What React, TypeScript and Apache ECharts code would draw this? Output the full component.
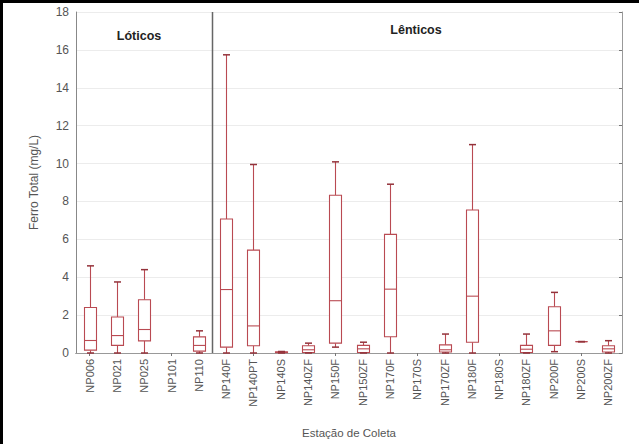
import React, { useEffect, useRef } from "react";
import * as echarts from "echarts";

const categories = [
  "NP006", "NP021", "NP025", "NP101", "NP110",
  "NP140F", "NP140PT", "NP140S", "NP140ZF", "NP150F", "NP150ZF",
  "NP170F", "NP170S", "NP170ZF", "NP180F", "NP180S", "NP180ZF",
  "NP200F", "NP200S", "NP200ZF",
];
// [min, q1, median, q3, max]
const mins = [0, 0, 0, 0, 0, 0, 0, 0, 0, 0.31, 0, 0, 0, 0, 0, 0, 0, 0.07, 0.6, 0];
const q1s = [0.15, 0.4, 0.64, 0, 0.1, 0.31, 0.38, 0.02, 0.03, 0.52, 0.03, 0.86, 0, 0.05, 0.57, 0, 0.03, 0.4, 0.6, 0.05];
const medians = [0.66, 0.92, 1.24, 0, 0.4, 3.35, 1.43, 0.04, 0.17, 2.76, 0.22, 3.37, 0, 0.17, 3.0, 0, 0.2, 1.17, 0.6, 0.22];
const q3s = [2.4, 1.9, 2.81, 0, 0.85, 7.07, 5.43, 0.06, 0.38, 8.33, 0.4, 6.26, 0, 0.43, 7.55, 0, 0.4, 2.44, 0.6, 0.38];
const maxs = [4.6, 3.75, 4.4, 0, 1.17, 15.74, 9.95, 0.08, 0.52, 10.09, 0.57, 8.91, 0, 1.0, 11.0, 0, 1.0, 3.2, 0.6, 0.65];
const lastLotico = 4;

const BOX = "#b94a52";
const CAP = "#93323a";

export default function App() {
  const ref = useRef<HTMLDivElement>(null);
  useEffect(() => {
    if (!ref.current) return;
    const chart = echarts.init(ref.current, undefined, { renderer: "svg" });
    const data = categories.map((_, i) => [i, mins[i], q1s[i], medians[i], q3s[i], maxs[i]]);
    const font = "'Liberation Sans', Arial, sans-serif";
    chart.setOption({
      animation: false,
      backgroundColor: "#fff",
      grid: { left: 76, right: 17, top: 12, bottom: 84, show: false },
      xAxis: [
        {
          type: "category",
          data: categories,
          position: "bottom",
          axisLine: { lineStyle: { color: "#666", width: 1 } },
          axisTick: { show: false },
          axisLabel: { rotate: 90, margin: 6, color: "#555", fontSize: 11, fontFamily: font },
          name: "Estação de Coleta",
          nameLocation: "middle",
          nameGap: 74,
          nameTextStyle: { color: "#555", fontSize: 11.5, fontFamily: font },
        },
        {
          type: "category",
          data: categories,
          position: "top",
          axisLine: { show: true, lineStyle: { color: "#999" } },
          axisTick: { show: true, inside: true, alignWithLabel: true, length: 3, lineStyle: { color: "#777" } },
          axisLabel: { show: false },
        },
      ],
      yAxis: [
        {
          type: "value",
          min: 0,
          max: 18,
          interval: 2,
          axisLine: { show: true, lineStyle: { color: "#888" } },
          axisTick: { show: false },
          axisLabel: { color: "#555", fontSize: 12, fontFamily: font, margin: 7 },
          splitLine: { show: true, lineStyle: { color: "#ececec", width: 1 } },
          name: "Ferro Total (mg/L)",
          nameLocation: "middle",
          nameGap: 36,
          nameTextStyle: { color: "#555", fontSize: 12, fontFamily: font },
        },
        {
          type: "value",
          min: 0,
          max: 18,
          interval: 2,
          position: "right",
          axisLine: { show: true, lineStyle: { color: "#999" } },
          axisTick: { show: true, inside: true, length: 3, lineStyle: { color: "#777" } },
          axisLabel: { show: false },
          splitLine: { show: false },
        },
      ],
      graphic: [
        { type: "rect", z: 200, shape: { x: 0, y: 0, width: 639, height: 3 }, style: { fill: "#000" } },
        { type: "rect", z: 200, shape: { x: 0, y: 0, width: 3, height: 444 }, style: { fill: "#000" } },
        {
          type: "text", x: 139, y: 36,
          style: { text: "Lóticos", fontSize: 12.5, fontWeight: "bold", fill: "#222", fontFamily: font, textAlign: "center", textVerticalAlign: "middle" },
        },
        {
          type: "text", x: 416, y: 30,
          style: { text: "Lênticos", fontSize: 12.5, fontWeight: "bold", fill: "#222", fontFamily: font, textAlign: "center", textVerticalAlign: "middle" },
        },
      ],
      series: [
        {
          type: "custom",
          xAxisIndex: 0,
          yAxisIndex: 0,
          data,
          encode: { x: 0, y: [1, 2, 3, 4, 5] },
          renderItem: (params: any, api: any) => {
            const idx = api.value(0);
            const pMin = api.coord([idx, api.value(1)]);
            const pQ1 = api.coord([idx, api.value(2)]);
            const pMed = api.coord([idx, api.value(3)]);
            const pQ3 = api.coord([idx, api.value(4)]);
            const pMax = api.coord([idx, api.value(5)]);
            const band = api.size([1, 0])[0];
            const w = 12;
            const cw = 7;
            const x = Math.round(pMed[0]) + 0.5;
            const children: any[] = [];
            if (api.value(5) > 0) {
              children.push(
                { type: "line", shape: { x1: x, y1: pQ3[1], x2: x, y2: pMax[1] }, style: { stroke: BOX, lineWidth: 1.1 } },
                { type: "line", shape: { x1: x, y1: pMin[1], x2: x, y2: pQ1[1] }, style: { stroke: BOX, lineWidth: 1.1 } },
                {
                  type: "rect",
                  shape: { x: x - w / 2, y: pQ3[1], width: w, height: Math.max(pQ1[1] - pQ3[1], 0) },
                  style: { fill: "#fff", stroke: BOX, lineWidth: 1.1 },
                },
                { type: "line", shape: { x1: x - w / 2, y1: pMed[1], x2: x + w / 2, y2: pMed[1] }, style: { stroke: BOX, lineWidth: 1.1 } },
                { type: "line", shape: { x1: x - cw / 2, y1: pMax[1], x2: x + cw / 2, y2: pMax[1] }, style: { stroke: CAP, lineWidth: 1.5 } },
                { type: "line", shape: { x1: x - cw / 2, y1: pMin[1], x2: x + cw / 2, y2: pMin[1] }, style: { stroke: CAP, lineWidth: 1.5 } }
              );
            }
            if (idx === lastLotico) {
              const top = api.coord([idx, 18]);
              const bottom = api.coord([idx, 0]);
              const dx = Math.round(x + band / 2) - 0.5;
              children.push({ type: "line", shape: { x1: dx, y1: top[1], x2: dx, y2: bottom[1] }, style: { stroke: "#666", lineWidth: 1.5 } });
            }
            return { type: "group", children };
          },
        },
      ],
    });
    return () => chart.dispose();
  }, []);
  return (
    <div style={{ position: "absolute", left: 0, top: 0, width: 639, height: 444, background: "#fff" }}>
      <div ref={ref} style={{ width: 639, height: 444, position: "absolute", left: 0, top: 0 }} />
      <div style={{ position: "absolute", left: 0, top: 0, width: 639, height: 3, background: "#000", zIndex: 10 }} />
      <div style={{ position: "absolute", left: 0, top: 0, width: 3, height: 444, background: "#000", zIndex: 10 }} />
    </div>
  );
}
